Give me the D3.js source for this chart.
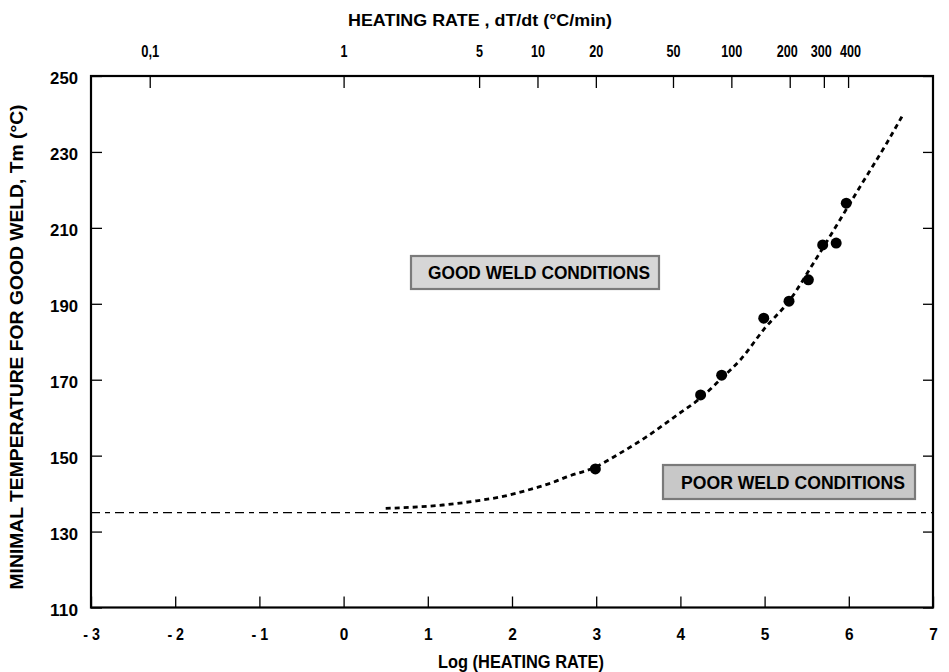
<!DOCTYPE html>
<html>
<head>
<meta charset="utf-8">
<script src="https://d3js.org/d3.v7.min.js"></script>
<style>
  body { margin: 0; background: #fff; }
  svg { display: block; }
  text { font-family: "Liberation Sans", Arial, sans-serif; font-weight: bold; fill: #000; }
</style>
</head>
<body>
<svg id="chart" width="949" height="672"></svg>
<script>
"use strict";
// measured points (log of heating rate vs Tm)
const pointLog = [2.99, 4.24, 4.49, 4.99, 5.29, 5.52, 5.69, 5.85, 5.97];
const pointTm = [146.5, 166.0, 171.2, 186.2, 190.7, 196.3, 205.5, 206.0, 216.5];
// fitted curve
const fitLog = [0.5, 1.18, 1.58, 1.86, 2.1, 2.31, 2.49, 2.65, 2.99, 3.28, 3.6, 3.96, 4.24, 4.49, 4.71, 5.0, 5.3, 5.58, 6.13, 6.45, 6.63];
const fitTm = [136.1, 137.0, 138.1, 139.1, 140.4, 141.7, 143.0, 144.4, 147.0, 150.6, 155.0, 160.7, 165.2, 170.4, 175.2, 183.5, 191.0, 200.7, 220.7, 232.3, 239.3];
const thresholdTm = 135;
const logTicks = [-3, -2, -1, 0, 1, 2, 3, 4, 5, 6, 7];
const logTickLabels = ["- 3", "- 2", "- 1", "0", "1", "2", "3", "4", "5", "6", "7"];
const rateTicks = [0.1, 1, 5, 10, 20, 50, 100, 200, 300, 400];
const rateTickLabels = ["0,1", "1", "5", "10", "20", "50", "100", "200", "300", "400"];
const tmTicks = [110, 130, 150, 170, 190, 210, 230, 250];

const mLeft = 91, mRight = 933, mTop = 76, mBottom = 607.5;
const svg = d3.select("#chart");
const x = d3.scaleLinear().domain([-3, 7]).range([mLeft, mRight]);
const xRate = d3.scaleLog().base(Math.E).domain([Math.exp(-3), Math.exp(7)]).range([mLeft, mRight]);
const y = d3.scaleLinear().domain([110, 250]).range([mBottom, mTop]);

// condensed look: squeeze each label to a width built from its characters
const labelWidth = (s, dw) => s.split("").reduce((w, c) => w + (c === "," ? 4 : c === " " ? 3 : c === "-" ? 5 : dw), 0);
const styleAxis = (g, size, dw) => {
  g.select(".domain").remove();
  g.selectAll(".tick line").attr("stroke", "#000").attr("stroke-width", 1.3);
  g.selectAll(".tick text").attr("font-size", size).attr("font-family", "Liberation Sans, Arial").attr("font-weight", "bold")
    .each(function () {
      const t = d3.select(this).text();
      if (t) d3.select(this).attr("textLength", labelWidth(t, dw)).attr("lengthAdjust", "spacingAndGlyphs");
    });
};

// bottom
svg.append("g").attr("transform", `translate(0,${mBottom})`)
  .call(d3.axisBottom(x).tickValues(logTicks).tickSize(-11).tickPadding(20).tickFormat((d, i) => logTickLabels[i]))
  .call(g => styleAxis(g, 17, 8.6));
// top (the crowded 200/300/400 labels sit a little apart, as printed)
const topNudge = { 200: -3, 300: -3, 400: 2 };
svg.append("g").attr("transform", `translate(0,${mTop})`)
  .call(d3.axisTop(xRate).tickValues(rateTicks).tickSize(-12).tickPadding(19).tickFormat((d, i) => rateTickLabels[i]))
  .call(g => styleAxis(g, 16.5, 7.0))
  .call(g => g.selectAll(".tick text").attr("dx", d => topNudge[d] || 0));
// left
svg.append("g").attr("transform", `translate(${mLeft},0)`)
  .call(d3.axisLeft(y).tickValues(tmTicks).tickSize(-11).tickPadding(13).tickFormat(d3.format("d")))
  .call(g => styleAxis(g, 17, 9.3))
  .call(g => g.selectAll(".tick text").attr("dy", "0.45em"));
// right (ticks only)
svg.append("g").attr("transform", `translate(${mRight},0)`)
  .call(d3.axisRight(y).tickValues(tmTicks).tickSize(-10).tickFormat(""))
  .call(g => styleAxis(g, 14, 8));

// frame
svg.append("rect").attr("x", mLeft).attr("y", mTop).attr("width", mRight - mLeft).attr("height", mBottom - mTop)
  .attr("fill", "none").attr("stroke", "#000").attr("stroke-width", 2.2);

// threshold line
svg.append("line").attr("x1", x(-3)).attr("x2", x(7)).attr("y1", y(thresholdTm)).attr("y2", y(thresholdTm))
  .attr("stroke", "#000").attr("stroke-width", 1.3).attr("stroke-dasharray", "9,5,5,5");

// fitted curve
const fit = fitLog.map((d, i) => ({ x: d, y: fitTm[i] }));
svg.append("path").datum(fit)
  .attr("d", d3.line().x(d => x(d.x)).y(d => y(d.y)).curve(d3.curveMonotoneX))
  .attr("fill", "none").attr("stroke", "#000").attr("stroke-width", 2.8).attr("stroke-dasharray", "5,4");

// points
svg.selectAll("circle.pt").data(pointLog.map((d, i) => ({ x: d, y: pointTm[i] })))
  .enter().append("circle").attr("class", "pt")
  .attr("cx", d => x(d.x)).attr("cy", d => y(d.y)).attr("r", 5.5).attr("fill", "#000");

// condition boxes
const boxes = [
  { label: "GOOD WELD CONDITIONS", x0: 411, y0: 256, w: 248, h: 33, fill: "#d6d6d6", tl: 222 },
  { label: "POOR WELD CONDITIONS", x0: 663, y0: 465, w: 252, h: 34, fill: "#c8c8c8", tl: 224 }
];
boxes.forEach(b => {
  svg.append("rect").attr("x", b.x0).attr("y", b.y0).attr("width", b.w).attr("height", b.h)
    .attr("fill", b.fill).attr("stroke", "#7a7a7a").attr("stroke-width", 2.2);
  svg.append("text").attr("x", b.x0 + b.w / 2 + 4).attr("y", b.y0 + b.h / 2 + 6.5)
    .attr("text-anchor", "middle").attr("font-size", 18)
    .attr("textLength", b.tl).attr("lengthAdjust", "spacingAndGlyphs").text(b.label);
});

// titles
svg.append("text").attr("x", 480).attr("y", 26).attr("text-anchor", "middle").attr("font-size", 16.5)
  .attr("textLength", 264).attr("lengthAdjust", "spacingAndGlyphs")
  .text("HEATING RATE  ,  dT/dt (\u00B0C/min)");
svg.append("text").attr("x", 521).attr("y", 668).attr("text-anchor", "middle").attr("font-size", 17.5)
  .attr("textLength", 166).attr("lengthAdjust", "spacingAndGlyphs")
  .text("Log  (HEATING RATE)");
svg.append("text").attr("transform", "translate(23,347) rotate(-90)").attr("text-anchor", "middle").attr("font-size", 17.5)
  .attr("textLength", 485).attr("lengthAdjust", "spacingAndGlyphs")
  .text("MINIMAL TEMPERATURE FOR GOOD WELD, Tm (\u00B0C)");
</script>
</body>
</html>
